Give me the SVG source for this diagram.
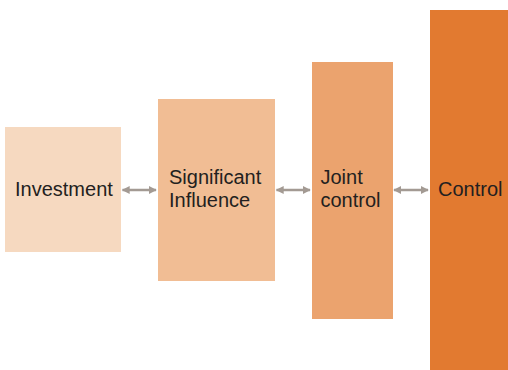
<svg xmlns="http://www.w3.org/2000/svg" width="508" height="370" viewBox="0 0 508 370">
<style>
text{font-family:"Liberation Sans",Arial,sans-serif;font-size:20px;fill:#231F20}
.conn{stroke:#A39A93;stroke-width:2.5;fill:none;marker-start:url(#ah);marker-end:url(#ah)}
</style>
<defs>
<marker id="ah" viewBox="0 0 10 10" refX="9" refY="5" markerWidth="3.4" markerHeight="3.2" orient="auto-start-reverse" markerUnits="strokeWidth">
<path d="M0,0 L10,5 L0,10 z" fill="#A39A93"/>
</marker>
</defs>
<rect width="508" height="370" fill="#fff"/>
<g id="investment">
<rect x="5" y="127" width="116" height="125" fill="#F6D9C0"/>
<text x="15" y="196">Investment</text>
</g>
<g id="significant-influence">
<rect x="158" y="99" width="117" height="182" fill="#F1BD94"/>
<text x="169" y="184">Significant</text>
<text x="169" y="207">Influence</text>
</g>
<g id="joint-control">
<rect x="312" y="62" width="81" height="257" fill="#EBA36E"/>
<text x="320.5" y="184">Joint</text>
<text x="320.5" y="207">control</text>
</g>
<g id="control">
<rect x="430" y="10" width="78" height="360" fill="#E27A30"/>
<text x="438" y="196">Control</text>
</g>
<g id="connectors">
<line class="conn" x1="122.5" y1="190" x2="156" y2="190"/>
<line class="conn" x1="276.5" y1="190" x2="310" y2="190"/>
<line class="conn" x1="394" y1="190" x2="428" y2="190"/>
</g>
</svg>
